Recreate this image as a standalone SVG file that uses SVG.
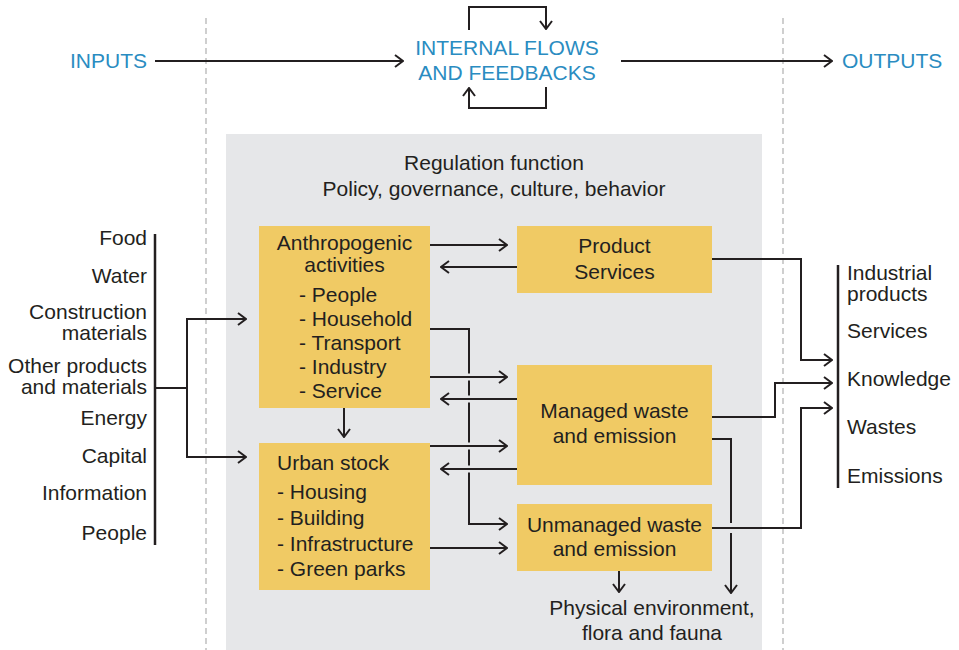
<svg xmlns="http://www.w3.org/2000/svg" width="959" height="650" viewBox="0 0 959 650">
  <style>
    text { font-family: "Liberation Sans", Arial, sans-serif; font-size: 21px; fill: #231f20; }
    .blue { fill: #2a8cc1; }
    .mid { text-anchor: middle; }
    .end { text-anchor: end; }
    .box { fill: #f0ca64; }
    .wire { fill: none; stroke: #231f20; stroke-width: 2; }
    .arrow { marker-end: url(#chev); }
    .halo { fill: none; stroke: #e6e7e9; stroke-width: 7; }
    .bar { fill: none; stroke: #231f20; stroke-width: 2.5; }
    .dash { fill: none; stroke: #c4c4c4; stroke-width: 1.6; stroke-dasharray: 6 4; }
  </style>
  <defs>
    <marker id="chev" viewBox="0 0 10 14" refX="9" refY="7" markerWidth="10" markerHeight="14" markerUnits="userSpaceOnUse" orient="auto">
      <path d="M1,1 L9,7 L1,13" fill="none" stroke="#231f20" stroke-width="2"/>
    </marker>
  </defs>

  <rect width="959" height="650" fill="#ffffff"/>

  <!-- column separators -->
  <g id="separators">
    <line class="dash" x1="206" y1="18" x2="206" y2="650"/>
    <line class="dash" x1="783" y1="18" x2="783" y2="650"/>
  </g>

  <!-- regulation panel -->
  <g id="regulation">
    <rect x="226" y="134" width="536" height="516" fill="#e6e7e9"/>
    <text class="mid" x="494" y="170">Regulation function</text>
    <text class="mid" x="494" y="196">Policy, governance, culture, behavior</text>
  </g>

  <!-- header labels -->
  <g id="inputs">
    <text class="blue" x="70" y="68">INPUTS</text>
  </g>
  <g id="internal">
    <text class="blue mid" x="507" y="55">INTERNAL FLOWS</text>
    <text class="blue mid" x="507" y="80">AND FEEDBACKS</text>
  </g>
  <g id="outputs">
    <text class="blue" x="842" y="68">OUTPUTS</text>
  </g>

  <!-- input list -->
  <g id="input-list">
    <text class="end" x="147" y="245">Food</text>
    <text class="end" x="147" y="283">Water</text>
    <text class="end" x="147" y="319">Construction</text>
    <text class="end" x="147" y="340">materials</text>
    <text class="end" x="147" y="373">Other products</text>
    <text class="end" x="147" y="394">and materials</text>
    <text class="end" x="147" y="425">Energy</text>
    <text class="end" x="147" y="463">Capital</text>
    <text class="end" x="147" y="500">Information</text>
    <text class="end" x="147" y="540">People</text>
  </g>

  <!-- output list -->
  <g id="output-list">
    <text x="847" y="280">Industrial</text>
    <text x="847" y="301">products</text>
    <text x="847" y="338">Services</text>
    <text x="847" y="386">Knowledge</text>
    <text x="847" y="434">Wastes</text>
    <text x="847" y="483">Emissions</text>
  </g>

  <!-- nodes -->
  <g id="anthropogenic">
    <rect class="box" x="259" y="226" width="171" height="182"/>
    <text class="mid" x="344.5" y="250">Anthropogenic</text>
    <text class="mid" x="344.5" y="272">activities</text>
    <text x="299" y="302">- People</text>
    <text x="299" y="326">- Household</text>
    <text x="299" y="350">- Transport</text>
    <text x="299" y="374">- Industry</text>
    <text x="299" y="398">- Service</text>
  </g>
  <g id="urban-stock">
    <rect class="box" x="259" y="443" width="171" height="147"/>
    <text x="277" y="470">Urban stock</text>
    <text x="277" y="499">- Housing</text>
    <text x="277" y="525">- Building</text>
    <text x="277" y="551">- Infrastructure</text>
    <text x="277" y="576">- Green parks</text>
  </g>
  <g id="product-services">
    <rect class="box" x="517" y="226" width="195" height="67"/>
    <text class="mid" x="614.5" y="253">Product</text>
    <text class="mid" x="614.5" y="279">Services</text>
  </g>
  <g id="managed-waste">
    <rect class="box" x="517" y="365" width="195" height="120"/>
    <text class="mid" x="614.5" y="418">Managed waste</text>
    <text class="mid" x="614.5" y="443">and emission</text>
  </g>
  <g id="unmanaged-waste">
    <rect class="box" x="517" y="504" width="195" height="67"/>
    <text class="mid" x="614.5" y="532">Unmanaged waste</text>
    <text class="mid" x="614.5" y="556">and emission</text>
  </g>
  <g id="environment">
    <text class="mid" x="652" y="615">Physical environment,</text>
    <text class="mid" x="652" y="640">flora and fauna</text>
  </g>

  <!-- connectors -->
  <g id="connectors">
    <!-- top row -->
    <path class="wire arrow" d="M155,61 H403"/>
    <path class="wire arrow" d="M621,61 H832"/>
    <path class="wire arrow" d="M469,30 V7 H546 V29"/>
    <path class="wire arrow" d="M546,87 V108 H469 V88"/>

    <!-- inputs fan-in -->
    <path class="bar" d="M155,234 V545"/>
    <path class="wire" d="M155,388 H187"/>
    <path class="wire arrow" d="M187,388 V319 H246"/>
    <path class="wire arrow" d="M187,388 V457 H246"/>

    <!-- anthropogenic / product services -->
    <path class="wire arrow" d="M430,245 H507"/>
    <path class="wire arrow" d="M517,267 H441"/>

    <!-- household route to unmanaged waste -->
    <path class="wire arrow" d="M430,329 H469 V524 H507"/>
    <path class="halo" d="M464,377 H474 M464,399 H474 M464,446 H474 M464,469 H474"/>

    <path class="wire arrow" d="M430,377 H507"/>
    <path class="wire arrow" d="M517,399 H441"/>
    <path class="wire arrow" d="M430,446 H507"/>
    <path class="wire arrow" d="M517,469 H441"/>
    <path class="wire arrow" d="M430,548 H507"/>
    <path class="wire arrow" d="M344,408 V437"/>

    <!-- to environment -->
    <path class="wire arrow" d="M619,571 V592"/>
    <path class="wire arrow" d="M712,439 H731 V593"/>

    <!-- to outputs -->
    <path class="halo" d="M731,523 V533"/>
    <path class="wire arrow" d="M712,528 H801 V408 H832"/>
    <path class="wire arrow" d="M712,417 H775 V383 H832"/>
    <path class="wire arrow" d="M712,259 H801 V360 H832"/>
    <path class="bar" d="M838,265 V488"/>
  </g>
</svg>
